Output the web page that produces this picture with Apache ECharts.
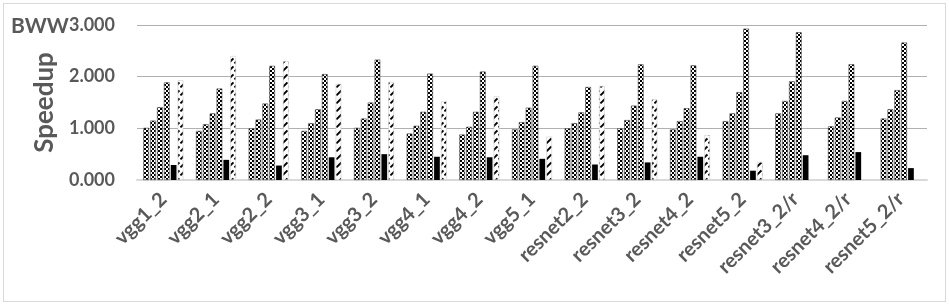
<!DOCTYPE html>
<html><head><meta charset="utf-8">
<script src="https://cdn.jsdelivr.net/npm/echarts@6/dist/echarts.min.js"></script>
<style>
html,body{margin:0;padding:0;background:#fff;}
#frame{position:absolute;left:3px;top:3px;width:943px;height:299px;border:1px solid #d9d9d9;box-sizing:border-box;}
#c{position:absolute;left:0;top:0;width:949px;height:304px;}
</style></head>
<body><div id="frame"></div><div id="c"></div>
<script>
const categories = ['vgg1_2','vgg2_1','vgg2_2','vgg3_1','vgg3_2','vgg4_1','vgg4_2','vgg5_1','resnet2_2','resnet3_2','resnet4_2','resnet5_2','resnet3_2/r','resnet4_2/r','resnet5_2/r'];
const s1 = [1.01,0.95,1.00,0.95,1.01,0.90,0.88,0.98,1.00,1.00,0.98,1.14,1.29,1.04,1.19];
const s2 = [1.15,1.08,1.17,1.10,1.19,1.05,1.03,1.12,1.10,1.16,1.14,1.29,1.53,1.21,1.37];
const s3 = [1.41,1.29,1.48,1.37,1.50,1.32,1.32,1.40,1.31,1.44,1.39,1.70,1.91,1.53,1.74];
const s4 = [1.89,1.77,2.21,2.05,2.33,2.06,2.10,2.21,1.80,2.24,2.22,2.93,2.86,2.24,2.66];
const s5 = [0.29,0.39,0.28,0.44,0.50,0.45,0.44,0.41,0.30,0.34,0.45,0.18,0.48,0.54,0.23];
const s6 = [1.93,2.40,2.30,1.86,1.90,1.52,1.62,0.84,1.82,1.56,0.87,0.35,null,null,null];
const yTicks = [0,1,2,3];

function checker(cell){
  const c=document.createElement('canvas');c.width=cell*2;c.height=cell*2;
  const g=c.getContext('2d');g.fillStyle='#fff';g.fillRect(0,0,cell*2,cell*2);
  g.fillStyle='#000';g.fillRect(0,0,cell,cell);g.fillRect(cell,cell,cell,cell);
  return {image:c,repeat:'repeat'};
}
function hatch(){
  const c=document.createElement('canvas');c.width=6;c.height=8;
  const g=c.getContext('2d');g.fillStyle='#fff';g.fillRect(0,0,6,8);
  g.strokeStyle='#000';g.lineWidth=1.9;g.lineCap='butt';g.beginPath();g.moveTo(0.4,7.4);g.lineTo(5.4,2.4);g.stroke();
  return {image:c,repeat:'repeat'};
}
const chk=checker(2), hch=hatch();
const chart=echarts.init(document.getElementById('c'),null,{renderer:'canvas'});
const txt='#595959', font='Lato';
function bar(name,data,color,border){
  return {name,type:'bar',data,barGap:'20%',barCategoryGap:'24%',
    itemStyle:{color,borderColor:border||null,borderWidth:border?0.6:0},silent:true};
}
chart.setOption({
  animation:false,
  textStyle:{fontFamily:font},
  grid:{left:137,right:22,top:25,bottom:124},
  title:{text:'BWW',left:6,top:11,textStyle:{fontFamily:font,fontWeight:'bold',fontSize:21,color:txt}},
  xAxis:{type:'category',data:categories,
    axisLine:{lineStyle:{color:'#d9d9d9',width:2}},axisTick:{show:false},
    axisLabel:{rotate:45,interval:0,margin:16,color:txt,fontWeight:'bold',fontSize:20,fontFamily:font}},
  yAxis:{type:'value',min:0,max:3,interval:1,
    name:'Speedup',nameLocation:'middle',nameRotate:90,nameGap:75,
    nameTextStyle:{fontFamily:font,fontWeight:'bold',fontSize:26,color:txt},
    axisLabel:{formatter:v=>v.toFixed(3),color:txt,fontWeight:'bold',fontSize:18,margin:22,fontFamily:font},
    splitLine:{lineStyle:{color:'#b0b0b0',width:1}},axisLine:{show:false},axisTick:{show:false}},
  series:[
    bar('s1',s1,chk,'#444'),bar('s2',s2,chk,'#444'),bar('s3',s3,chk,'#444'),bar('s4',s4,chk,'#444'),
    bar('s5',s5,'#000'),bar('s6',s6,hch,'#ccc')
  ]
});
</script></body></html>
